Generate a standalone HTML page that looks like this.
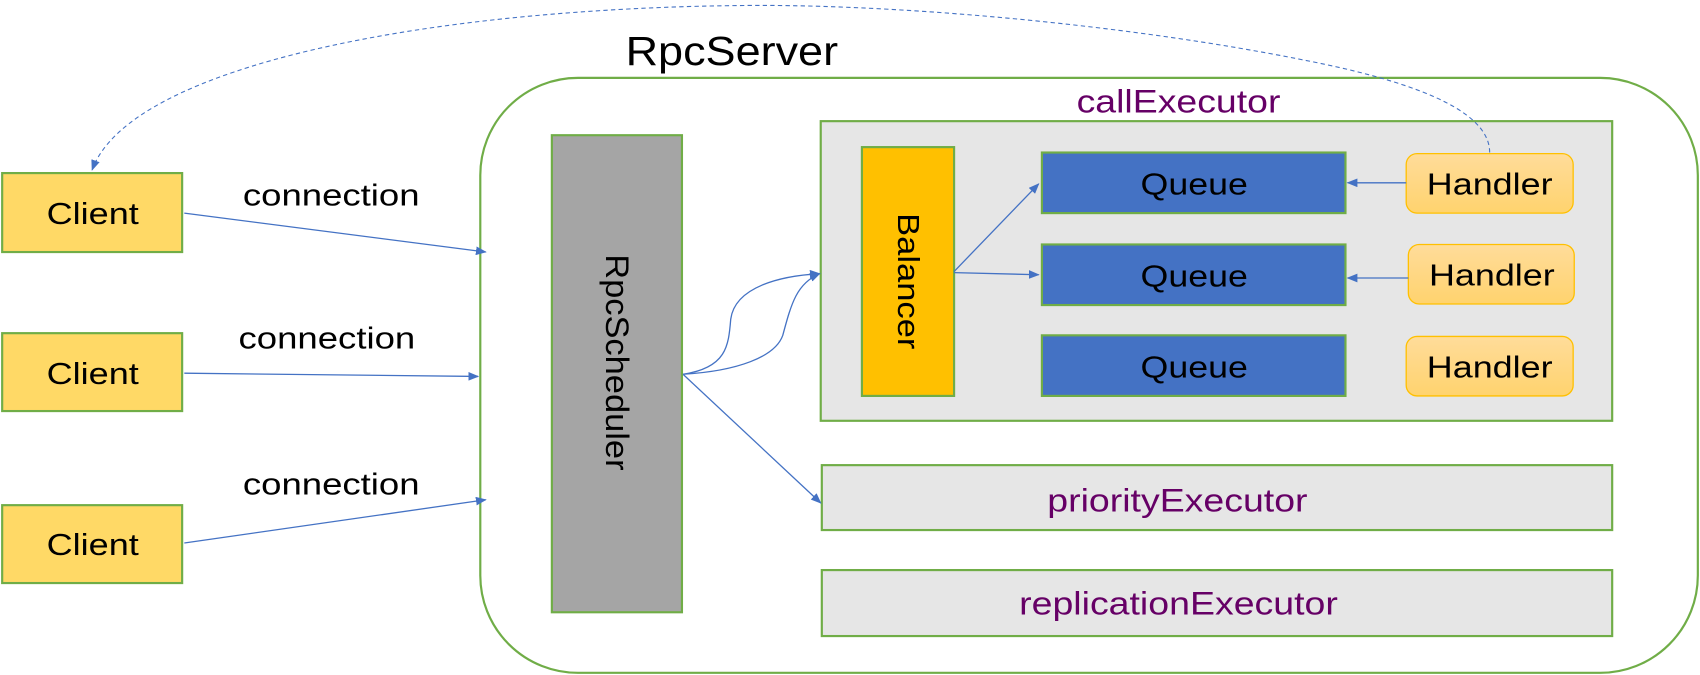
<!DOCTYPE html>
<html><head><meta charset="utf-8"><style>
html,body{margin:0;padding:0;background:#fff;}
svg{display:block;}
text{font-family:"Liberation Sans","Noto Sans CJK SC",sans-serif;}
</style></head><body>
<svg width="1700" height="675" viewBox="0 0 1568 624" preserveAspectRatio="none" xmlns="http://www.w3.org/2000/svg">
<defs>
<marker id="ah" markerWidth="10" markerHeight="8" refX="9" refY="4" orient="auto" markerUnits="userSpaceOnUse">
<path d="M0,0 L10,4 L0,8 z" fill="#4472c4"/></marker>
<linearGradient id="hg" x1="0" y1="0" x2="0" y2="1"><stop offset="0" stop-color="#ffdc9a"/><stop offset="1" stop-color="#ffd36e"/></linearGradient>
</defs>
<text x="577" y="60" font-size="38" fill="#000" textLength="196" lengthAdjust="spacingAndGlyphs">RpcServer</text>
<rect x="443" y="72" width="1123" height="550" rx="90" fill="none" stroke="#70ad47" stroke-width="2"/>
<text x="993" y="104" font-size="30" fill="#660066" textLength="188" lengthAdjust="spacingAndGlyphs">callExecutor</text>
<rect x="757" y="112" width="730" height="277" fill="#e6e6e6" stroke="#70ad47" stroke-width="2"/>
<rect x="509" y="125" width="120" height="441" fill="#a5a5a5" stroke="#70ad47" stroke-width="2"/>
<text transform="translate(569,235) rotate(90)" font-size="30" dominant-baseline="central" fill="#000" textLength="200" lengthAdjust="spacingAndGlyphs">RpcScheduler</text>
<rect x="795" y="136" width="85" height="230" fill="#ffc000" stroke="#70ad47" stroke-width="2"/>
<text transform="translate(837,197) rotate(90)" font-size="28" dominant-baseline="central" fill="#000" textLength="126" lengthAdjust="spacingAndGlyphs">Balancer</text>
<g fill="#4472c4" stroke="#70ad47" stroke-width="2">
<rect x="961" y="141" width="280" height="56"/><rect x="961" y="226" width="280" height="56"/><rect x="961" y="310" width="280" height="56"/></g>
<g font-size="28" fill="#000">
<text x="1052" y="180" textLength="99" lengthAdjust="spacingAndGlyphs">Queue</text><text x="1052" y="265" textLength="99" lengthAdjust="spacingAndGlyphs">Queue</text><text x="1052" y="349" textLength="99" lengthAdjust="spacingAndGlyphs">Queue</text></g>
<g fill="url(#hg)" stroke="#ffc000" stroke-width="1.2">
<rect x="1297" y="142" width="154" height="55" rx="10"/><rect x="1299" y="226" width="153" height="55" rx="10"/><rect x="1297" y="311" width="154" height="55" rx="10"/></g>
<g font-size="28" fill="#000">
<text x="1316" y="180" textLength="116" lengthAdjust="spacingAndGlyphs">Handler</text><text x="1318" y="264" textLength="116" lengthAdjust="spacingAndGlyphs">Handler</text><text x="1316" y="349" textLength="116" lengthAdjust="spacingAndGlyphs">Handler</text></g>
<rect x="758" y="430" width="729" height="60" fill="#e6e6e6" stroke="#70ad47" stroke-width="2"/>
<text x="966" y="473" font-size="30" fill="#660066" textLength="240" lengthAdjust="spacingAndGlyphs">priorityExecutor</text>
<rect x="758" y="527" width="729" height="61" fill="#e6e6e6" stroke="#70ad47" stroke-width="2"/>
<text x="940" y="568" font-size="30" fill="#660066" textLength="294" lengthAdjust="spacingAndGlyphs">replicationExecutor</text>
<g fill="#ffd966" stroke="#70ad47" stroke-width="2">
<rect x="2" y="160" width="166" height="73"/><rect x="2" y="308" width="166" height="72"/><rect x="2" y="467" width="166" height="72"/></g>
<g font-size="28" fill="#000">
<text x="43" y="207" textLength="85" lengthAdjust="spacingAndGlyphs">Client</text><text x="43" y="355" textLength="85" lengthAdjust="spacingAndGlyphs">Client</text><text x="43" y="513" textLength="85" lengthAdjust="spacingAndGlyphs">Client</text>
<text x="224" y="190" textLength="163" lengthAdjust="spacingAndGlyphs">connection</text><text x="220" y="322" textLength="163" lengthAdjust="spacingAndGlyphs">connection</text><text x="224" y="457" textLength="163" lengthAdjust="spacingAndGlyphs">connection</text></g>
<path d="M1374,141 C1374,110 1330,80 1200,55 C1050,25 850,5 700,5 C400,6 120,60 85,157" fill="none" stroke="#4472c4" stroke-width="1" stroke-dasharray="4,3" marker-end="url(#ah)"/>
<g fill="none" stroke="#4472c4" stroke-width="1.2" marker-end="url(#ah)">
<path d="M170,197 L448,233"/><path d="M170,345 L441,348"/><path d="M170,502 L448,462"/>
<path d="M630,346 C670,340 672,320 674,295 C678,265 720,255 756,253"/>
<path d="M630,346 C680,343 715,330 722,310 C730,280 735,262 756,253"/>
<path d="M630,346 L757,465"/>
<path d="M880,251 L958,170"/><path d="M880,252 L958,254"/>
<path d="M1297,169 L1243,169"/><path d="M1299,257 L1243,257"/>
</g>
</svg>
</body></html>
